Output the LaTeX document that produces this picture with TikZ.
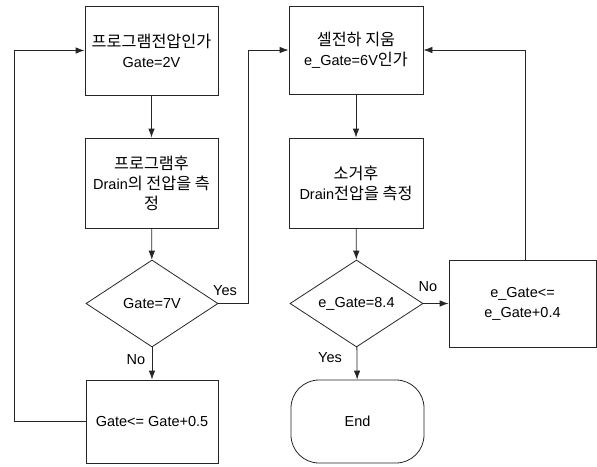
\documentclass[tikz,border=0pt]{standalone}
\usepackage{fontspec}
\setmainfont{Liberation Sans}
\newfontfamily\kr{Noto Sans CJK KR}[Scale=1.12]
\usetikzlibrary{arrows.meta,shapes.geometric}
\begin{document}
\begin{tikzpicture}[x=1pt,y=-1pt,
  every node/.style={font=\fontsize{14.5}{20}\selectfont, text=black},
  box/.style={draw=black!85, line width=0.8pt, rectangle, inner sep=0pt, align=center},
  dia/.style={draw=black!85, line width=0.8pt, diamond, inner sep=0pt, aspect=1.5},
  term/.style={draw=black!85, line width=0.8pt, rectangle, rounded corners=28pt, inner sep=0pt},
  conn/.style={draw=black!85, line width=0.8pt},
  arr/.style={conn, -{Latex[length=9pt,width=6.5pt]}},
  lbl/.style={inner sep=0pt}]
\useasboundingbox (0,0) rectangle (597,466);
\node[box, minimum width=133pt, minimum height=89pt] (b1) at (151.5,50.5)
  {{\kr 프로그램전압인가}\\Gate=2V};
\node[box, minimum width=133pt, minimum height=90pt] (b2) at (151.5,183)
  {{\kr 프로그램후}\\Drain{\kr 의 전압을 측}\\{\kr 정}};
\node[dia, minimum width=132pt, minimum height=87pt] (d1) at (152,303.5) {Gate=7V};
\node[box, minimum width=132pt, minimum height=83pt] (b3) at (152,421.5) {Gate<= Gate+0.5};
\node[box, minimum width=134pt, minimum height=88pt] (b4) at (356,50)
  {{\kr 셀전하 지움}\\e\_Gate=6V{\kr 인가}};
\node[box, minimum width=134pt, minimum height=90pt] (b5) at (356,183)
  {{\kr 소거후}\\Drain{\kr 전압을 측정}};
\node[dia, minimum width=133pt, minimum height=87pt] (d2) at (356.5,303.5) {e\_Gate=8.4};
\node[box, minimum width=147pt, minimum height=87pt] (b6) at (522.5,303.5) {e\_Gate<=\\e\_Gate+0.4};
\node[term, minimum width=133pt, minimum height=83pt] (end) at (357.5,421.5) {End};
\coordinate (cl1) at (14,421.5);
\coordinate (cl2) at (14,50.5);
\coordinate (cy1) at (248,303.5);
\coordinate (cy2) at (248,50);
\coordinate (cr0) at (525,260);
\coordinate (cr1) at (525,50);
\draw[arr] (b1) -- (b2);
\draw[arr] (b2) -- (d1);
\draw[arr] (d1) -- (b3);
\draw[arr] (b3.west) -- (cl1) -- (cl2) -- (b1.west);
\draw[arr] (d1.east) -- (cy1) -- (cy2) -- (b4.west);
\draw[arr] (b4) -- (b5);
\draw[arr] (b5) -- (d2);
\draw[arr] (d2.east) -- (b6.west);
\draw[arr] (d2) -- (end);
\draw[arr] (cr0) -- (cr1) -- (b4.east);
\node[lbl] (ly1) at (225,291) {Yes};
\node[lbl] (ln1) at (136,360) {No};
\node[lbl] (ln2) at (428,287) {No};
\node[lbl] (ly2) at (330,358) {Yes};
\end{tikzpicture}
\end{document}
